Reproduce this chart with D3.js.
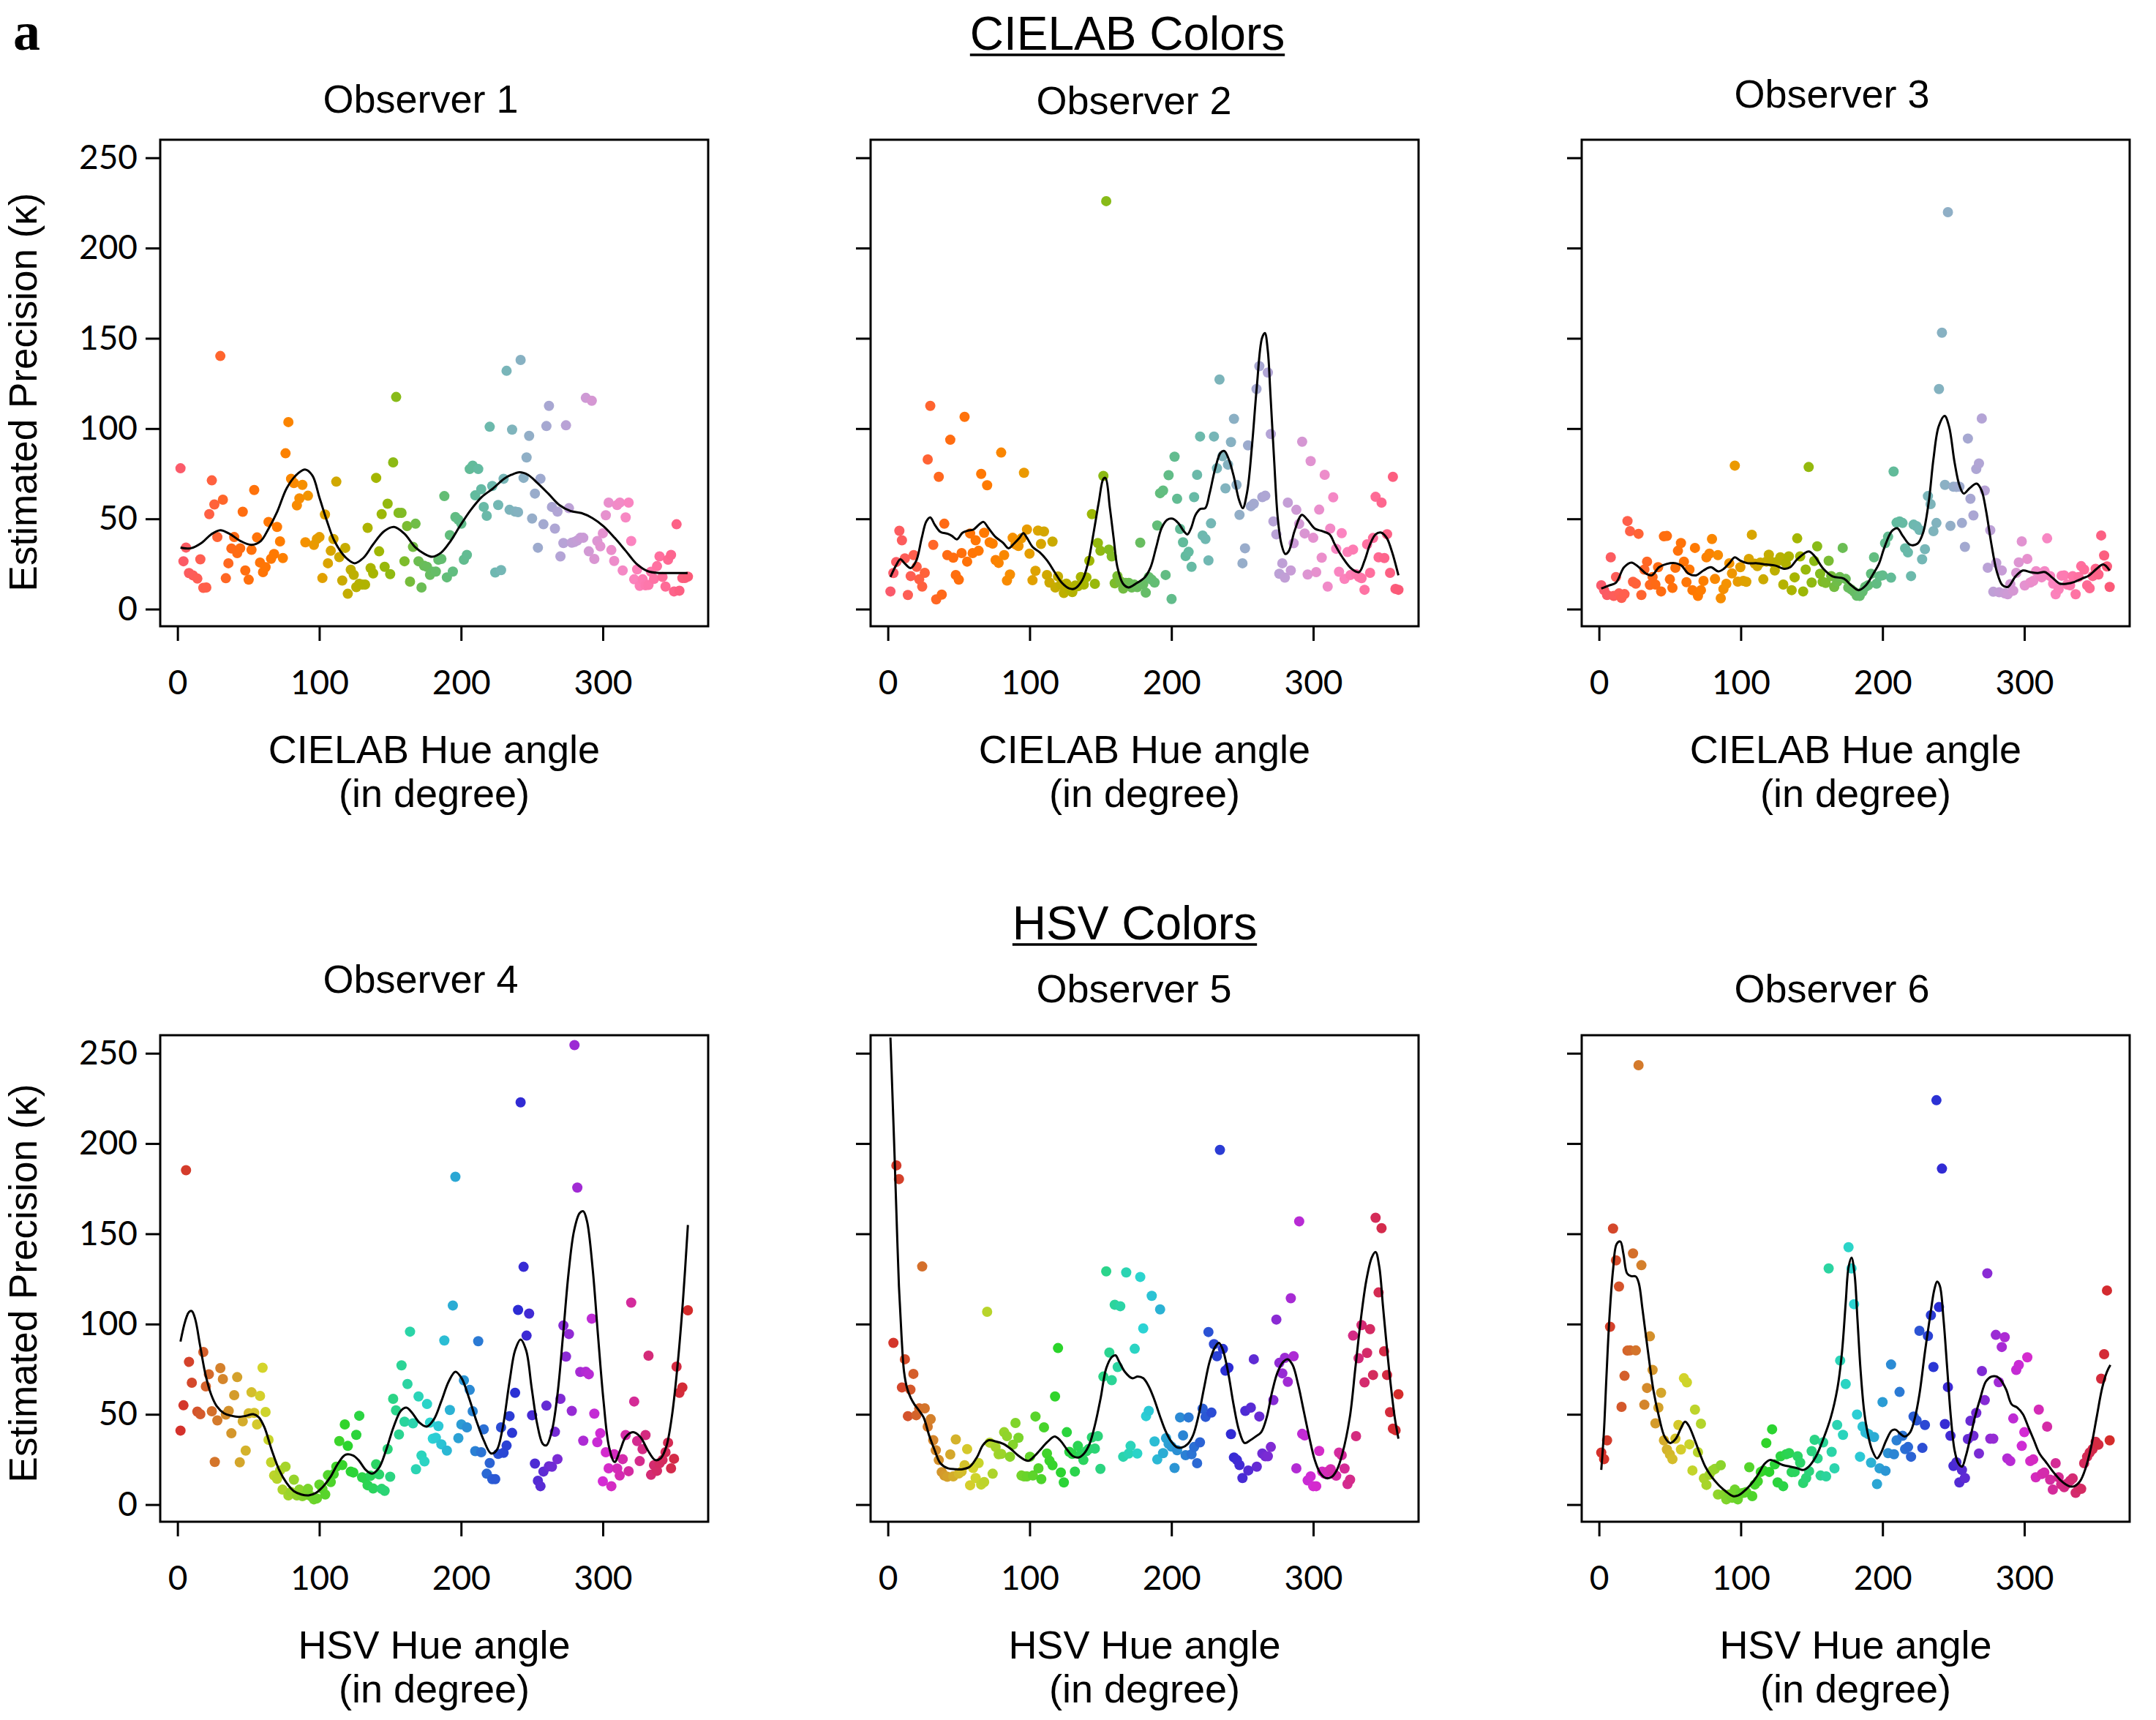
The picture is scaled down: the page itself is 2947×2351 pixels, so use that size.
<!DOCTYPE html>
<html><head><meta charset="utf-8">
<script src="https://cdn.jsdelivr.net/npm/d3@7"></script>
<style>body{margin:0;background:#fff} svg{display:block}</style>
</head><body>
<svg id="chart" width="2947" height="2351"></svg>
<script>
// ---------------- DATA ----------------
const xTicks = [0, 100, 200, 300];
const yTicks = [0, 50, 100, 150, 200, 250];
const sectionTitles = ["CIELAB Colors", "HSV Colors"];
const panelTitles = ["Observer 1", "Observer 2", "Observer 3", "Observer 4", "Observer 5", "Observer 6"];
const xLabelLines = [["CIELAB Hue angle", "(in degree)"], ["HSV Hue angle", "(in degree)"]];
const yLabel = "Estimated Precision (\u03ba)";
const panelLetter = "a";

// [hue angle (deg), estimated precision kappa]
const obs1Points = [[2.1,78],[4.2,26.5],[6,34.1],[8.1,20],[10.9,18.7],[14,16.9],[16.1,27.6],[18.2,11.8],[20.3,12],[22.4,52.6],[24.2,71.3],[26,58],[28.1,39.9],[30.2,140.2],[32,60.6],[34.1,17.1],[35.9,25.4],[38,33.6],[40,39.9],[42.1,31],[44.2,33.7],[46,53.9],[47.8,21.4],[50.2,16.3],[52.2,32.8],[54.1,66],[56.1,39.7],[58.2,25.8],[60.3,20.5],[62.1,23.2],[64.2,48.3],[66,27.9],[68.1,30.5],[70.2,45.5],[72.3,37.5],[74.3,28.3],[76.2,86.3],[78.2,103.6],[80.1,72.2],[82.1,69.8],[84.2,57.5],[86,61.3],[88.1,68.8],[90.2,37],[92,62.8],[96.2,35.6],[98.3,38.8],[100.1,39.9],[102.2,17.2],[104,52.4],[106.1,25.4],[108.1,32.3],[110,38.8],[112,70.6],[114.1,28.8],[116.2,15.8],[118.3,33.9],[120.1,8.5],[122.2,21.8],[124.3,19],[126.1,12.2],[128.2,14],[130.2,13.6],[132.3,13.6],[134.1,45],[136.2,22.7],[138,19.8],[140.1,72.7],[142.2,32],[144,52.6],[146.1,23.4],[148.2,58.4],[150,19.4],[152.1,81.3],[154.2,117.5],[155.9,53.3],[158,53.3],[160.1,26.5],[161.9,46],[164,15.2],[166.1,34.5],[167.9,47.3],[170,26.5],[172.1,12],[173.9,24],[176,23.4],[178.1,19],[180.1,20.7],[182.2,20.8],[184,27.4],[186.1,27.8],[188.2,62.6],[190,17.6],[192.1,41],[194.2,20.8],[196,51],[198.1,49.5],[200.2,47.3],[202,27.4],[204.1,30],[206.1,77.6],[208.2,79.5],[210,63],[212.1,77.6],[214.2,66.4],[216,56.6],[218.1,51.7],[220.2,101],[222,68.2],[224.1,20.3],[226.2,57.7],[228.2,21.6],[230,72.2],[232.1,132],[234.2,55],[236,99.4],[238.1,54],[240.2,53.7],[242,138],[244.1,72.7],[246.2,84],[248,96],[250.1,50.2],[252.1,64],[254.2,34],[256,72.2],[258.1,47],[260.2,101.4],[262,112.6],[264.1,56.6],[266.2,44.6],[268,54],[270.1,29.2],[272.2,36.6],[274,101.8],[276.1,55.9],[278.1,36.8],[280,37.2],[282,38],[284.1,39.5],[286.2,39.5],[288,117],[290.1,32],[292.2,115.4],[294,27.8],[296.1,37.7],[298.2,34.8],[300,42],[302.1,52],[304.1,59],[306,32.7],[308,26.7],[310.1,57.7],[312,59],[314,21.4],[316.1,50.8],[318.2,59],[320,37.7],[322.1,16.5],[324.2,22],[326,12.9],[328.1,16.5],[330.1,13.2],[332.2,13.4],[334,20.7],[336.1,16.7],[338.2,23.8],[340,29.2],[342.1,17.8],[344.2,12.5],[346,27.4],[348.1,30],[350.2,9.8],[352,47],[354,10.2],[356.1,17.2],[357.9,17.2],[360,18]];
const obs1Curve = [[2.1,34.1],[9.4,33.7],[17.2,36.8],[23.7,41.4],[30.2,43.7],[36.7,41.7],[44.5,37.7],[52.2,35.6],[58.7,37.7],[63.9,44.1],[70.4,54.1],[76.9,66.8],[83.4,74],[89.9,77.3],[95.1,74],[100.3,61.3],[105.5,48.6],[110.7,37.7],[118.5,28.7],[125,25.4],[131.5,28.7],[138,35.9],[145.8,43.2],[152.8,45.5],[160.1,41.7],[167.9,34.1],[174.4,30.5],[179.6,29],[186.1,31.4],[192.6,37.7],[199.1,45.9],[206.9,55],[214.7,62.2],[222.5,66.8],[230.3,72.2],[235.5,74.4],[241.2,75.8],[247.2,74.4],[253.7,70],[261.5,64],[269.3,57.7],[277.1,54.4],[284.9,53.2],[292.7,50.4],[300.5,45.9],[308.3,39.5],[316.1,32.3],[323.9,25],[331.7,21],[339.5,20],[347.3,20],[359.8,20]];

const obs2Points = [[1.8,9.8],[3.9,20],[5.9,26.1],[8.1,43.4],[9.9,38.1],[12,28.1],[14.1,7.8],[16.1,18.3],[18.2,29.9],[20.3,23.4],[22.1,16.5],[24.2,12.5],[26,20.1],[28.1,82.9],[29.9,112.6],[32,35.6],[34.1,5.4],[35.9,73.3],[38,8],[39.8,47.3],[41.9,29.9],[44,93.8],[46.1,28.5],[47.9,18.9],[50,16.3],[52,31],[54.1,106.5],[55.9,26.3],[58,41.9],[59.8,31],[61.9,38.1],[64,32.3],[65.8,74.9],[67.9,42.3],[70,68.6],[71.8,37],[73.9,36.3],[76,27.2],[78.1,25.6],[79.9,86.7],[82,29.9],[84,15.8],[86.1,19.2],[88,39.5],[90,35.9],[92.1,35],[94.2,39.2],[96,75.5],[98.1,44.1],[99.9,30.7],[102,16],[104.1,21.2],[105.9,43.5],[108,36.1],[110.1,43],[112.2,18.9],[114,14.7],[116.1,37.4],[118.1,12],[120,18.1],[122,13.6],[124.1,8.9],[125.9,14.1],[128,10.9],[130.1,9.4],[132.2,13.1],[134,12.7],[136.1,17.8],[138.2,13.6],[140,17.6],[142.1,26.8],[143.9,52.6],[146,14],[148.1,36.6],[149.9,32.3],[152,73.8],[154,226],[155.9,33],[157.9,29.2],[160,14.3],[161.9,18.3],[163.9,15.4],[166,11.4],[167.8,14.5],[169.9,14.5],[172,12],[173.8,13.6],[175.9,12.2],[178,36.8],[180.1,13.8],[181.9,9.1],[184,17.8],[186.1,16.3],[188.1,14.7],[190,46.3],[192,64.2],[194.1,65.7],[195.9,18.9],[198,74.2],[200.1,5.6],[202.2,84.4],[204,61.1],[206.1,44.4],[208.2,37],[210,29.4],[212.1,31.7],[214.2,23.4],[216,62],[218.1,74.4],[220.2,95.6],[222,40.8],[224,38.8],[226.1,27],[227.9,47.5],[230,95.6],[232.1,78],[233.9,127.2],[236,84.7],[238.1,66.9],[239.9,80],[242,92.5],[244.1,105.4],[245.9,68.8],[248,52.2],[250.1,25.4],[251.9,33.7],[254,90.7],[256,57],[258.1,58.4],[260,121.9],[262,134.6],[264.1,62],[266.2,62.8],[268,131],[270.1,97],[271.9,48.6],[274,41.4],[276.1,19.6],[278.2,25.4],[280,17.4],[282.1,59],[284.2,21.4],[286.2,36.5],[288.1,55],[290.1,47.2],[292.2,92.7],[294,41.9],[296.1,19.2],[298.2,82],[300,39.5],[302.1,20.5],[304.2,55.1],[306,28.5],[308.1,74.4],[310.2,12.5],[312,44.6],[314.1,61.9],[316.2,33.4],[318.2,20.7],[320.1,42.1],[322.1,16.7],[324.2,31.6],[326.3,18.9],[328.1,33],[330.2,19.4],[332.3,17.8],[334.1,17.1],[336.2,10.7],[338,35.9],[340.1,20.1],[342.2,39.4],[344,62.2],[346.1,28.7],[348.2,59],[350.2,28.3],[352.1,41.5],[354.2,20.1],[356.2,73.3],[358,11.2],[360.1,10.7]];
const obs2Curve = [[1.8,17.8],[5.7,24.1],[8.8,27.6],[12.2,25],[16.1,22.7],[20,26.8],[23.9,39.5],[27.1,48.6],[29.9,50.8],[33,46.8],[37,42.8],[42.2,41.7],[45.3,40.5],[48.7,38.6],[52.6,42.3],[56.5,43.5],[60.4,44.1],[64.3,46.8],[67.4,48.3],[70.8,45],[76,39.9],[81.2,36.8],[85.1,33.7],[89,36.3],[92.9,39.5],[95.5,42.1],[98.1,39.5],[102,34.5],[107.2,31.4],[112.4,26.8],[117.6,20.5],[122.8,14.5],[128,11.4],[131.9,11.4],[137.1,16],[141,25],[144.9,41.4],[148.8,59.5],[152,72.2],[153.5,72.6],[156.6,55.9],[159.2,39.5],[161.9,23.2],[165.8,14.1],[169.7,12],[174.9,14.1],[181.4,17.8],[185.3,23.2],[189.2,34.1],[193.1,45],[197,49.5],[200.9,50.1],[204.8,47.7],[208.7,43.2],[211.3,41.4],[213.9,45],[217,52.2],[220.4,55.5],[223.8,55.9],[226.9,64],[230.8,77.6],[234.7,86.7],[237.3,87.6],[240.4,83.1],[243.8,74],[247.7,60.4],[250.3,55.9],[253.4,64.9],[256.8,90.3],[260.2,123],[263.9,150.2],[265.9,152.9],[268,142.9],[269.8,119.4],[272.4,83.1],[275,50.4],[277.6,35.9],[280.3,30.5],[282.9,32.3],[286.8,43.2],[292,52.2],[295.9,49.5],[301.1,44.6],[306.3,43.2],[311.5,41.4],[315.4,35.6],[320.6,28.7],[327.1,22.3],[332.3,20.5],[336.2,26.8],[340.1,35.9],[344,41.4],[347.9,42.4],[351.8,39.5],[355.7,31.4],[360.1,18.7]];

const obs3Points = [[1.6,13.2],[3.6,10.5],[5.7,7.8],[8.3,28.7],[10.4,7.3],[12,17.8],[14.1,8.7],[15.9,6.2],[18,8.3],[20.1,48.8],[21.9,43.2],[24,15.1],[26,14.1],[27.9,41.7],[29.9,7.8],[32,21.9],[33.9,26.3],[35.9,13.4],[37.8,17.8],[39.8,13.6],[41.7,23.2],[43.8,9.8],[45.8,40.3],[47.9,40.5],[50,16.5],[51.8,11.8],[53.9,22.9],[55.7,32.3],[57.8,36.6],[59.9,26.3],[61.7,14.9],[63.8,21.9],[65.9,10.5],[67.7,33.9],[69.8,7.3],[71.9,10.5],[73.7,15.6],[75.8,28.7],[77.9,30.7],[79.7,38.8],[81.8,16.7],[83.9,29.9],[85.9,6],[87.8,11.1],[89.8,14],[91.9,25.4],[93.8,19.8],[95.8,79.5],[97.9,15.2],[99.7,23.2],[101.8,15.6],[103.9,15.1],[105.7,27.8],[107.8,41.2],[109.9,25.2],[111.7,23.8],[113.8,25.8],[115.9,16.5],[118,26.3],[119.8,30.1],[121.9,26.1],[124,21.4],[125.8,26.3],[127.9,28.7],[130,13.6],[131.8,25.4],[133.9,29.2],[135.9,10.5],[138,17.6],[139.8,39.2],[141.9,29.2],[144,9.8],[145.8,21.9],[147.9,78.7],[150,14.7],[151.8,26.7],[153.9,34.8],[156,19.6],[157.8,15.1],[159.9,14.5],[162,26.8],[163.8,18.3],[165.9,12.3],[168,15.2],[169.8,17.8],[171.9,33.9],[174,16.7],[175.8,12],[177.9,10.9],[179.9,9.6],[181.8,7.4],[183.9,7.3],[185.9,9.6],[187.8,12.3],[189.8,13.2],[191.9,19.6],[194,28.7],[195.8,14.1],[197.9,18.3],[200,18.7],[201.8,36.5],[203.9,40.1],[206,17.4],[207.8,76.2],[209.9,47.9],[212,48.6],[214.1,47.7],[215.9,33.7],[217.9,31.4],[220.1,18.3],[221.9,46.8],[224,45.9],[226,43.9],[227.9,27.6],[229.9,33.2],[232,62.6],[233.9,58.2],[235.9,43.2],[238,47.7],[239.8,121.9],[241.9,153.1],[244,68.8],[246.1,219.9],[247.9,46.1],[250,67.8],[252.1,67.7],[254.2,67.8],[256,47.7],[258.1,34.5],[260.2,94.5],[262,61.1],[264.1,51.9],[266.1,77.6],[268,80.7],[270,105.6],[272.1,65.7],[274.2,22.9],[276,43.7],[278.1,9.6],[280.2,25.6],[282.3,9.3],[284.1,21.4],[286.2,8.7],[288.3,8.2],[290.1,13.8],[292.2,10.2],[294.3,20.1],[296.1,25.9],[298.2,37.5],[300.3,13.1],[302.1,27.8],[304.2,14.7],[306.3,15.6],[308.3,21],[310.2,19.8],[312.2,17.6],[314.3,21],[316.1,39.2],[318.2,18.3],[320.3,14.1],[322.1,8.2],[324.2,10.9],[326.3,18.5],[328.1,18.7],[330.2,13.6],[332.3,13.2],[334.1,18.3],[336.2,8.2],[338.3,17.8],[340.1,23.8],[342.2,21.9],[344.3,13.2],[346.1,11.6],[348.2,18.3],[350.3,22.3],[352.3,19.2],[354.2,40.8],[356.3,29.7],[358.3,23.6],[360.2,12.3]];
const obs3Curve = [[1.6,11.4],[7.3,13.1],[12,14.7],[17.7,23.2],[22.9,25.8],[28.1,23.2],[33.3,19.6],[37.2,18.7],[42.4,23.2],[47.7,25],[54.2,25.4],[58.1,24.1],[63.3,19.6],[68.5,18.7],[73.7,21.4],[78.9,23.2],[84.1,20.9],[88,22.3],[91.9,25.4],[95.8,28.7],[99.7,26.8],[104.9,25.4],[111.5,25.4],[118,24.7],[124.5,24.1],[131,22.3],[134.9,23.2],[140.1,27.8],[147.9,31.9],[151.8,29.6],[158.3,22.3],[164.8,18.1],[172.7,16.9],[177.9,13.2],[183.1,10.5],[188.3,13.2],[193.5,19.6],[197.4,25],[201.3,34.1],[206.5,43.2],[210.4,44.8],[214.3,40.5],[219.5,35.6],[224.7,36.3],[228.6,42.3],[232.6,59.5],[235.9,83.1],[239.6,101.2],[243.8,107],[246.9,101.2],[250.8,81.3],[254.2,68.6],[257.3,64],[261.2,66.8],[266.4,69.5],[269.8,65.8],[272.9,55],[276.8,35.9],[280.7,20.5],[284.6,13.2],[288.5,12.3],[293.8,18.1],[299,21.4],[304.2,20.5],[309.4,20],[314.6,20.5],[319.8,17.4],[325,14.1],[330.2,14.1],[335.4,15.1],[340.6,16.9],[345.8,18.7],[351,22.3],[355.7,24.7],[360.2,21.4]];

const obs4Points = [[2.1,41],[4.2,55],[6,185.2],[8.1,79.1],[10.1,67.5],[14,51.5],[16.1,50.1],[18.2,84.5],[20,65.5],[22.1,72.2],[24.2,51.7],[26.3,23.6],[28.1,46.6],[30.2,75.6],[32,69.5],[34.1,49.9],[36.1,51.9],[38,39.5],[40,60.6],[42.1,70.6],[43.9,23.4],[46,46.1],[48.1,29.9],[50.2,50.6],[52.2,62.2],[54.1,50.8],[56.1,44.4],[58.2,60.2],[60,75.8],[62.1,51.3],[64.2,35.9],[66,23.4],[68.1,16.1],[70.2,14.3],[72.3,18.9],[74.1,8.3],[76.2,21],[78.2,5.1],[80.1,6.9],[82.1,13.8],[84.2,5.1],[86,8.3],[88.1,4.7],[90.2,5.4],[92,8.7],[94.1,4.7],[96.2,2.9],[98.3,3.4],[100.1,11.1],[102.2,8.7],[104.2,5.6],[106.1,16.3],[108.1,12.5],[110.2,16.9],[112,21],[114.1,35.2],[116.2,21.9],[118,44.4],[120.1,32.5],[122.2,18.3],[124,17.8],[126.1,38.6],[128.2,49.2],[130.2,15.1],[132.1,14.5],[134.1,10.7],[136.2,16],[138,8.9],[140.1,22.3],[142.2,16.7],[144,8.7],[146.1,7.6],[148.2,30.7],[150,15.4],[152.1,58.6],[154.1,52.2],[156.2,38.8],[158,77.1],[160.1,45.9],[162.2,66.8],[164,95.8],[166.1,45],[168.2,19.6],[170,59.9],[172.1,27.2],[174.2,23.9],[176,55.7],[178.1,45.4],[180.1,36.5],[182.2,37],[184,43.5],[186.1,33.4],[188.2,90.9],[190,29.9],[192.1,52.4],[194.2,110.3],[196,181.6],[198.1,36.8],[200.2,44.4],[202,68.8],[204.1,42.8],[206.1,63.5],[208.2,51.7],[210,29.6],[212.1,90.5],[214.2,29],[216,41.7],[218.1,17.1],[220.2,23],[222,14.1],[224.1,14.1],[226.2,28.1],[228.2,42.8],[230,28.7],[232.1,32.7],[234.2,49],[236,39.7],[238.1,61.9],[240.2,107.8],[242,222.8],[244.1,131.7],[246.2,93.6],[248,105.8],[250.1,49.5],[252.1,22.7],[254.2,13.2],[256,10.2],[258.1,18.3],[260.2,54.8],[262,21.2],[264.1,21],[266.2,40.3],[268,25.2],[270.1,58.6],[272.2,99.2],[274,82],[276.1,94.5],[278.1,51.9],[280,254.5],[282,175.6],[284.1,73.5],[286.2,35.4],[288,73.6],[290.1,72.2],[292.2,103],[294,50.4],[296.1,34.6],[298.2,39.5],[300,12.9],[302.1,29],[304.1,20.1],[306,10.2],[308,27.9],[310.1,20],[311.9,16.1],[314,25.2],[316.1,38.5],[318.2,18.5],[320,111.9],[322.1,57.1],[324.2,35.2],[326,24.1],[328,30.7],[330.1,38.5],[332.2,82.5],[334,16.5],[336.1,21.8],[338.2,18.7],[340,22.9],[342.1,24.7],[344.2,29],[346,34.3],[348.1,20.1],[350.2,25.4],[352,76.4],[354,61.9],[356.1,64.9],[360,107.6]];
const obs4Curve = [[2.1,90.3],[5.5,101.8],[8.1,106.7],[10.1,107.2],[12.5,102.7],[15.9,88.2],[19.8,71.8],[23.7,61],[27.6,54.6],[32.8,50.6],[38,49.2],[43.2,48.6],[48.3,49.2],[53.5,50.1],[57.4,48.3],[61.3,42.8],[66.5,30.1],[71.7,19.2],[76.9,12],[82.1,7.4],[87.3,5.6],[92.5,5.1],[97.7,6.5],[102.9,10.2],[108.1,15.6],[113.3,22.9],[118.5,27.6],[123.7,27.2],[127.6,24.7],[132.8,19.2],[137.2,17.1],[141.9,20.1],[147.1,30.1],[152.3,42.8],[157.5,51.9],[161.4,53.7],[165.3,51],[170.5,45.5],[175.7,43.2],[180.9,47.3],[186.1,57.3],[191.3,68.2],[196,73.6],[200.4,70],[205.6,59.1],[210.8,46.4],[216,35.6],[221.2,28.3],[225.1,30.1],[229,41],[234.2,68.2],[238.1,85.4],[242,91.4],[245.9,85.4],[249.8,64.6],[253.7,44.6],[257.6,33.7],[260.2,32.8],[264.1,41],[268,61],[271.9,93.6],[275.8,128.1],[279.7,151.7],[283.6,161.4],[286.2,162.5],[288.8,157.1],[292.7,131.7],[296.6,93.6],[300.5,57.3],[304.4,31.9],[308.3,23.6],[312.2,30.1],[316.1,37.4],[321.3,40.1],[326.5,37.4],[331.7,30.1],[336.9,24.7],[340.8,25.6],[344.7,31.9],[348.6,48.3],[352.5,75.5],[356.4,111.7],[360,154.9]];

const obs5Points = [[3.9,89.6],[6,187.9],[7.8,180.3],[9.9,64.9],[12,80.5],[14.1,49],[15.9,63.7],[18,72.4],[20,49.5],[22.1,53.3],[24.2,131.9],[26,53.3],[28.1,43.2],[30.2,47.3],[32,35.7],[33.8,30.1],[35.9,24.7],[38,18],[39.8,16.1],[41.9,15.4],[44,27.8],[46.1,15.6],[47.9,36.1],[50,17.2],[52,18.3],[54.1,21.8],[55.9,30.7],[58,10.7],[60.1,20.3],[61.9,14.7],[64,23],[65.8,11.1],[67.9,12.5],[70,106.8],[71.8,34.3],[73.9,17.1],[76,31.9],[78.1,27.9],[79.9,28.1],[82,40.1],[84,37.9],[86.1,26.5],[88.2,33.2],[90,45.2],[92.1,37],[94.2,16.1],[96,15.6],[98.1,15.6],[100.2,26.5],[102.3,16.1],[104.1,48.8],[106.2,20.1],[108.2,14.1],[110.1,42.8],[112.2,28.3],[114,24.3],[116.1,21.8],[117.9,59.9],[120,86.7],[122,17.8],[124.1,12.3],[126.2,40.1],[128,29.2],[130.1,28.1],[131.9,18.3],[134,32.5],[136.1,27.9],[137.9,24.7],[140,29.6],[141.8,30.8],[143.9,37.2],[146,31],[148.1,37.9],[149.9,19.8],[152,70.9],[154,129.2],[156.2,84.2],[157.9,68.9],[160,110.7],[162.1,76.2],[163.9,109.9],[166,26.5],[168.1,128.6],[169.9,28.3],[171.2,32.5],[174.1,86.3],[175.9,28.3],[178,126.1],[180.1,97.6],[182.1,49],[184,51.9],[186.1,115.6],[188.1,35],[190,25],[192,108.1],[194.1,28.5],[196.2,36.8],[198,33.6],[200.1,32.1],[202.2,20.3],[204,30.1],[206.1,48.3],[208.2,38.3],[210,27.4],[212.1,48.3],[214.2,27.9],[216,31.9],[218.1,22.9],[220.1,34.5],[222,53.1],[224.1,48.6],[226.1,95.6],[228.2,51],[230,88.9],[232.1,82.2],[234.2,196.5],[236.3,86.2],[238.1,74.2],[240.2,75.8],[242,39],[244.1,26.1],[246.2,24.7],[248,21.9],[250.1,14.7],[252.1,51.9],[254.2,18.9],[256,53.7],[258.1,80.5],[260.2,21],[262,48.8],[264.1,28.3],[266.2,26.8],[268,26.8],[270.1,31.9],[271.9,57.9],[274,102.5],[276.1,78.5],[278.2,72.7],[280,81.3],[282.1,68],[284.2,114.3],[286.2,82.2],[288.1,20.1],[290.1,156.9],[292.2,39.2],[294,38.3],[296.1,13.4],[298.2,15.6],[300,10.2],[302.1,10.2],[304.2,29.7],[306.3,18.3],[308.1,17.1],[310.2,18.3],[312.3,19.6],[314.1,17.1],[316.2,16],[318.2,28.8],[320.1,27.4],[322.1,20],[324.2,11.4],[326,13.8],[328.1,93.6],[330.2,37.9],[332,81.1],[334.1,99.4],[336.2,67.7],[338,84],[340.1,97.2],[342.2,71.8],[344,158.9],[346.1,117.5],[348.2,153.1],[350,84.9],[352.1,71.8],[354.2,51.2],[356.2,42.1],[358.1,41.2],[360.1,61.1]];
const obs5Curve = [[1.8,258.7],[3.1,229.7],[4.7,193.4],[6.2,157.1],[7.8,120.8],[9.6,93.6],[11.4,73.6],[13.5,64.6],[16.1,59.1],[18.7,55.5],[21.9,52.2],[25.2,48.3],[29.1,38.3],[33,30.1],[37,22.9],[42.2,20.1],[47.4,19.6],[52.6,19.6],[57.8,21],[63,26.5],[66.9,32.8],[70.8,35.6],[76,35],[81.2,33.7],[86.4,31],[91.6,27.4],[96.8,24.7],[99.4,24.3],[103.3,26.8],[107.2,30.1],[112.4,34.6],[117.6,37.7],[121.5,35.6],[126.7,30.1],[130.6,26.8],[134.5,26.1],[138.4,28.3],[142.3,33.7],[146.2,44.6],[150.1,59.1],[154,75.5],[158,81.8],[160.5,82.7],[163.2,79.1],[167.1,73.6],[172.3,70],[176.2,70.9],[180.1,70],[184,65.5],[187.9,58.2],[191.8,49.2],[195.7,41],[199.6,35.2],[203.5,31.9],[207.4,31.6],[211.3,33.4],[215.2,38.3],[219.1,49.2],[223,64.6],[226.9,79.1],[230.8,87.3],[233.4,89.6],[236,86.3],[239.9,73.6],[243.8,55.5],[247.7,41],[251.6,34.1],[255.5,35.6],[259.4,37.7],[263.3,40.1],[267.2,48.3],[271.1,62.8],[275,73.6],[278.9,79.1],[282.1,80.5],[285.5,77.3],[289.4,66.4],[293.3,51.9],[297.2,37.4],[301.1,24.7],[305,17.4],[308.9,14.7],[312.8,15.2],[316.7,19.2],[320.6,28.3],[325.8,48.3],[329.7,75.5],[333.6,102.7],[337.5,124.4],[341.4,137.1],[344,139.9],[346.6,131.7],[349.2,109.9],[351.8,88.2],[354.4,68.2],[357.5,48.3],[360.1,36.5]];

const obs6Points = [[1.6,28.8],[3.6,25.2],[5.7,35.6],[7.8,98.5],[9.9,152.9],[12,135.3],[14.1,120.8],[15.9,54.1],[18,71.3],[20.1,85.3],[21.9,85.4],[24,139.1],[26,85.4],[27.9,243.4],[29.9,132.6],[32,55.3],[33.9,64.6],[35.9,93.2],[37.8,74.6],[39.8,45],[41.9,53.7],[43.8,61.9],[45.8,35.6],[47.9,30.5],[50,27.8],[51.8,25.2],[53.9,36.5],[56,44.1],[57.8,30.5],[59.9,70],[62,67.7],[63.8,33.4],[65.9,18.9],[67.7,52.6],[69.8,29],[71.9,44.8],[74,14.5],[75.8,10.9],[77.9,16.5],[80,18.9],[81.8,19.8],[83.9,5.6],[85.9,21.8],[88,5.6],[89.8,2.9],[91.9,5.6],[94,3.8],[95.8,8.3],[97.9,2.9],[100,6.2],[102.1,6.5],[103.9,6.9],[106,20.7],[108.1,4.7],[109.9,11.1],[112,12.9],[114.1,18.1],[115.9,18.9],[118,34.1],[120.1,18.1],[122.1,41.7],[124,22.3],[126,12.3],[128.1,26.8],[129.9,10.2],[132,27.9],[134.1,28.5],[135.9,18],[138,18.1],[140.1,26.8],[141.9,23.2],[144,12],[146.1,14.7],[148.2,18.5],[150,29.6],[152.1,35.9],[154.2,25.6],[156.3,16.1],[158.1,34.5],[160.2,15.6],[162,130.8],[164.1,29.2],[166.1,20.1],[168,44.1],[170.1,79.8],[172.1,38.6],[174,66.8],[176,142.6],[178.1,130.8],[179.9,111],[182,49.9],[184.1,26.5],[185.9,43.2],[188,39.9],[190.1,39],[191.9,23.2],[194,37.4],[196.1,11.4],[197.9,20.1],[200,56.8],[202.1,18.7],[203.9,28.5],[206,77.6],[208.1,27.9],[209.9,35.6],[212,62.4],[214.1,38.1],[215.9,30.7],[218,31.9],[220.1,26.5],[221.9,48.8],[224,46.6],[226,96.3],[228.1,31.4],[229.9,44.1],[232,93.4],[234.1,104.9],[235.9,76.2],[238,224],[239.8,109.4],[241.9,186.1],[244,44.6],[246.1,65.1],[247.9,38.1],[250,21.4],[252.1,23.4],[254.2,12.3],[256,19.2],[258.1,14.7],[260.2,36.3],[262,46.4],[264.1,38.1],[266.1,50.8],[268,28.3],[270.1,74],[272.1,57.9],[273.9,128.1],[276,36.5],[278.1,36.5],[279.9,94],[282,67.8],[284.1,87.3],[286.2,92.7],[288,25.6],[290.1,24.1],[292.2,47.7],[294.3,74.6],[296.1,77.3],[298.2,32.5],[300,40.1],[302.1,81.6],[304.2,24.1],[306.3,25],[308.1,15.1],[310.2,52.6],[312.3,16.9],[314.1,17.8],[316.1,43.2],[318.2,13.8],[320.1,8.3],[322.1,22.9],[324.2,15.1],[326,11.1],[328.1,9.6],[330.2,11.6],[332.3,13.2],[334.1,14.5],[336.2,6.5],[338.3,9.1],[340.1,8.7],[342.2,22.9],[344.3,26.5],[346.1,28.8],[348.2,30.7],[350.3,34.8],[352.3,33.2],[354.2,69.7],[356.3,83.3],[358.3,118.6],[360.2,35.6]];
const obs6Curve = [[1.6,19.2],[3.4,39.2],[5.2,70],[7.3,102.7],[9.9,129.9],[12.5,144.4],[15.1,145.7],[17.2,139],[19.8,128.1],[22.4,126.6],[26,126.3],[28.1,122.6],[30.7,108.1],[34.6,84.5],[38.5,62.8],[42.4,48.3],[46.4,37.4],[50.3,34.1],[54.2,36.5],[58.1,42.8],[60.7,45.9],[63.3,43.7],[67.2,36.5],[71.1,28.3],[75,21],[78.9,16],[84.1,11.1],[89.3,7.4],[94.5,4.7],[98.4,5.1],[103.6,8.3],[108.9,12.9],[112.8,17.4],[116.7,22.5],[120.6,24.7],[124.5,23.8],[129.7,21.9],[134.9,21],[140.1,20.1],[144,19.2],[147.9,21],[153.1,26.8],[158.3,36.5],[163.5,48.3],[168.2,64.6],[171.4,84.5],[174,111.7],[176,131.3],[178.1,136.8],[180.2,128.1],[182.3,102.7],[184.4,75.5],[187,51.9],[189.6,39.2],[192.7,30.1],[196.1,25.6],[198.7,28.3],[202.6,35.6],[206.5,41],[209.1,41.5],[212.5,39.2],[215.6,37.7],[219.5,40.1],[222.9,48.3],[226,61],[229.9,84.5],[233.9,106.3],[236.5,119],[238.5,123.5],[240.4,121.2],[243,102.7],[245.6,75.5],[248.2,48.3],[250.8,30.1],[253.4,22.9],[256,21],[258.6,26.5],[262,37.4],[265.1,48.3],[269,59.1],[272.9,68.2],[276.8,70.9],[280.7,70.9],[283.3,69.1],[287.2,63.7],[291.1,55.5],[295.1,53.7],[299,50.1],[302.9,42.8],[306.8,35.6],[310.7,28.3],[315.9,22.9],[321.1,17.4],[326.3,12.9],[331.5,10.2],[335.4,10.2],[339.3,12.9],[343.2,20.1],[347.1,31.9],[351,48.3],[354.9,64.6],[358.3,73.6],[360.7,77.3]];

// ---------------- STYLE / LAYOUT ----------------
const W = 2947, H = 2351;
const colX = [219, 1190, 2162], rowY = [191, 1415];
const boxW = 749, boxH = 665;
const tickFont = "Lato, 'DejaVu Sans', sans-serif";
const textFont = "'Liberation Sans', Arial, sans-serif";

// CIELAB hue -> displayed colour (sampled appearance)
const labStops = [[0,"#fa5a6e"],[20,"#ff5f4a"],[40,"#ff6a14"],[70,"#ff7a00"],[90,"#f59200"],[105,"#dca300"],[120,"#c4ad00"],[140,"#a4b600"],[155,"#86bb1a"],[170,"#6cbd50"],[190,"#62bd78"],[210,"#62bb9e"],[225,"#70b8b2"],[240,"#84b2c0"],[255,"#9eaace"],[270,"#b4a4d6"],[285,"#c89cd6"],[300,"#e492d0"],[320,"#fb84c0"],[340,"#ff6f9e"],[360,"#fb5a78"]];
const labColor = d3.scaleLinear().domain(labStops.map(d => d[0])).range(labStops.map(d => d[1])).interpolate(d3.interpolateRgb);
const hsvColor = h => d3.hsl(h, 0.66, 0.5).formatHex();

const panels = [
  {pts: obs1Points, curve: obs1Curve, row: 0, col: 0, title: panelTitles[0], tx: 575, ty: 154, color: labColor},
  {pts: obs2Points, curve: obs2Curve, row: 0, col: 1, title: panelTitles[1], tx: 1550, ty: 156, color: labColor},
  {pts: obs3Points, curve: obs3Curve, row: 0, col: 2, title: panelTitles[2], tx: 2504, ty: 147, color: labColor},
  {pts: obs4Points, curve: obs4Curve, row: 1, col: 0, title: panelTitles[3], tx: 575, ty: 1357, color: hsvColor},
  {pts: obs5Points, curve: obs5Curve, row: 1, col: 1, title: panelTitles[4], tx: 1550, ty: 1370, color: hsvColor},
  {pts: obs6Points, curve: obs6Curve, row: 1, col: 2, title: panelTitles[5], tx: 2504, ty: 1370, color: hsvColor}
];

const svg = d3.select("#chart");
svg.append("rect").attr("width", W).attr("height", H).attr("fill", "#fff");

// panel letter
svg.append("text").attr("x", 18).attr("y", 68).attr("font-family", "'Liberation Serif', serif")
  .attr("font-size", 74).attr("font-weight", "bold").attr("fill", "#000").text(panelLetter);

// section titles (underlined)
[[1541, 68], [1551, 1284]].forEach((pos, i) => {
  const t = svg.append("text").attr("x", pos[0]).attr("y", pos[1]).attr("text-anchor", "middle")
    .attr("font-family", textFont).attr("font-size", 64).attr("fill", "#000").text(sectionTitles[i]);
  const w = t.node().getComputedTextLength();
  svg.append("line").attr("x1", pos[0] - w / 2).attr("x2", pos[0] + w / 2)
    .attr("y1", pos[1] + 7).attr("y2", pos[1] + 7).attr("stroke", "#000").attr("stroke-width", 3.5);
});

// y axis labels (left column)
[[50, 536], [50, 1754]].forEach(pos => {
  svg.append("text").attr("transform", `translate(${pos[0]},${pos[1]}) rotate(-90)`)
    .attr("text-anchor", "middle").attr("font-family", textFont).attr("font-size", 53)
    .attr("fill", "#000").text(yLabel);
});

panels.forEach((p, i) => {
  const x = d3.scaleLinear().domain([-12.2, 374.3]).range([0, boxW]);
  const y = d3.scaleLinear().domain([-9.5, 260]).range([boxH, 0]);
  const g = svg.append("g").attr("transform", `translate(${colX[p.col]},${rowY[p.row]})`);

  g.append("clipPath").attr("id", "clip" + i).append("rect").attr("width", boxW).attr("height", boxH);

  // y axis
  const ya = d3.axisLeft(y).tickValues(yTicks).tickSize(20).tickPadding(11)
    .tickFormat(p.col === 0 ? d3.format("d") : () => "");
  const yg = g.append("g").call(ya);
  // x axis
  const xa = d3.axisBottom(x).tickValues(xTicks).tickSize(20).tickPadding(40).tickFormat(d3.format("d"));
  const xg = g.append("g").attr("transform", `translate(0,${boxH})`).call(xa);
  [yg, xg].forEach(a => {
    a.select(".domain").remove();
    a.selectAll(".tick line").attr("stroke", "#000").attr("stroke-width", 3);
    a.selectAll(".tick text").attr("font-family", tickFont).attr("font-size", 46).attr("fill", "#000");
  });

  // points
  g.append("g").attr("clip-path", `url(#clip${i})`).selectAll("circle").data(p.pts).join("circle")
    .attr("cx", d => x(d[0])).attr("cy", d => y(d[1])).attr("r", 7)
    .attr("fill", d => p.color(d[0]));

  // smooth curve
  const line = d3.line().x(d => x(d[0])).y(d => y(d[1])).curve(d3.curveCatmullRom.alpha(0.5));
  g.append("path").attr("clip-path", `url(#clip${i})`).datum(p.curve).attr("d", line)
    .attr("fill", "none").attr("stroke", "#000").attr("stroke-width", 3).attr("stroke-linejoin", "round");

  // frame
  g.append("rect").attr("width", boxW).attr("height", boxH).attr("fill", "none")
    .attr("stroke", "#000").attr("stroke-width", 3);

  // panel title
  svg.append("text").attr("x", p.tx).attr("y", p.ty).attr("text-anchor", "middle")
    .attr("font-family", textFont).attr("font-size", 54).attr("fill", "#000").text(p.title);

  // x label (two lines)
  const lines = xLabelLines[p.row];
  lines.forEach((s, k) => {
    g.append("text").attr("x", boxW / 2).attr("y", boxH + 187 + k * 60).attr("text-anchor", "middle")
      .attr("font-family", textFont).attr("font-size", 54).attr("fill", "#000").text(s);
  });
});
</script>
</body></html>
